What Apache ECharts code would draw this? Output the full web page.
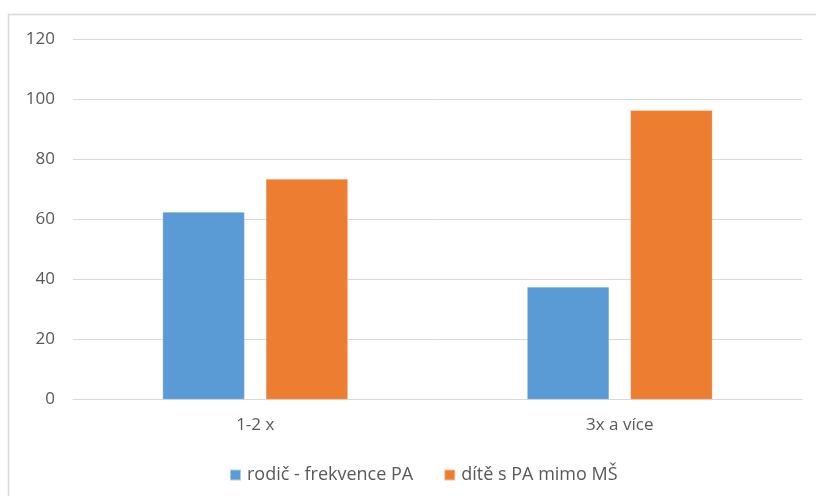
<!DOCTYPE html>
<html>
<head>
<meta charset="utf-8">
<script src="https://cdn.jsdelivr.net/npm/echarts@6/dist/echarts.min.js"></script>
<style>html,body{margin:0;padding:0;background:#fff}#c{width:816px;height:496px}</style>
</head>
<body>
<div id="c"></div>
<script>
var categories = ['1-2 x', '3x a více'];
var seriesNames = ['rodič - frekvence PA', 'dítě s PA mimo MŠ'];
var parentValues = [62.5, 37.5];
var childValues = [73.5, 96.4];
var colors = ['#5B9BD5', '#ED7D31'];
var FONT = '"Open Sans", sans-serif';

var chart = echarts.init(document.getElementById('c'), null, {renderer: 'canvas'});
chart.setOption({
  animation: false,
  backgroundColor: '#fff',
  graphic: [{
    type: 'rect', z: -1,
    shape: {x: 8.5, y: 14.5, width: 830, height: 520},
    style: {fill: 'none', stroke: '#d9d9d9', lineWidth: 1.5}
  }],
  grid: {left: 73, right: 14, top: 39.5, bottom: 96.5},
  legend: {
    top: 461, left: 224,
    itemWidth: 11, itemHeight: 11, itemGap: 30,
    icon: 'rect',
    textStyle: {color: '#595959', fontFamily: FONT, fontSize: 18, padding: [0, 0, 0, 1]},
    data: seriesNames
  },
  xAxis: {
    type: 'category', data: categories,
    axisLine: {lineStyle: {color: '#d9d9d9', width: 1}},
    axisTick: {show: false},
    axisLabel: {color: '#595959', fontFamily: FONT, fontSize: 17, margin: 17}
  },
  yAxis: {
    type: 'value', min: 0, max: 120, interval: 20,
    axisLine: {show: false}, axisTick: {show: false},
    splitLine: {lineStyle: {color: '#d9d9d9', width: 1}},
    axisLabel: {color: '#595959', fontFamily: FONT, fontSize: 17, margin: 18}
  },
  series: [
    {name: seriesNames[0], type: 'bar', data: parentValues, barWidth: 82, barGap: '26%',
     itemStyle: {color: colors[0], borderColor: 'rgba(255,255,255,0.5)', borderWidth: 0.5}},
    {name: seriesNames[1], type: 'bar', data: childValues, barWidth: 82, barGap: '26%',
     itemStyle: {color: colors[1], borderColor: 'rgba(255,255,255,0.5)', borderWidth: 0.5}}
  ]
});
</script>
</body>
</html>
